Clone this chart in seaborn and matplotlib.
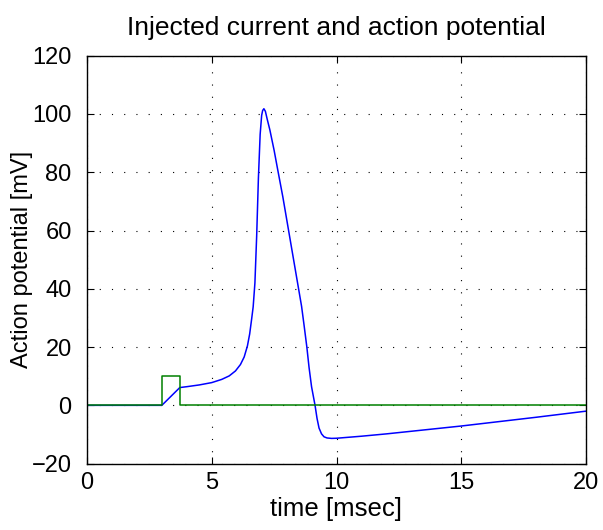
import matplotlib
matplotlib.use("Agg")
import matplotlib.pyplot as plt
import seaborn as sns
import pandas as pd

# Action potential (blue)
t_ap = [0, 3.0, 3.72, 4.0, 4.5, 5.0, 5.4, 5.7, 5.95, 6.15, 6.3, 6.43, 6.52, 6.6,
        6.66, 6.73, 6.8, 6.87, 6.94, 7.0, 7.04, 7.09, 7.15, 7.22, 7.33,
        7.5, 7.63, 7.85, 8.04, 8.25, 8.46, 8.6, 8.7, 8.81, 8.9, 9.0, 9.14, 9.22, 9.3,
        9.4, 9.5, 9.62, 9.8, 10.0, 11.0, 12.0, 13.0, 14.0, 15.0, 16.0, 17.0, 18.0,
        19.0, 20.0]
v_ap = [0, 0, 6.1, 6.4, 7.0, 7.8, 8.9, 10.1, 11.8, 14.0, 16.6, 20.4, 24.5, 29.7,
        33.8, 42, 58, 78, 93, 99.5, 101.2, 101.8, 100.9, 98.3, 94.5,
        87.5, 81.5, 71.5, 62, 51.5, 41, 34, 27.5, 20.1, 13, 6.4, 0, -4.5, -7.8,
        -9.8, -10.8, -11.2, -11.35, -11.3, -10.6, -9.8, -8.9, -8.0, -7.1, -6.1, -5.1, -4.1,
        -3.05, -2.0]

# Injected current (green)
t_inj = [0, 3.0, 3.0, 3.72, 3.72, 20]
i_inj = [0, 0, 10, 10, 0, 0]

x_ticks = [0, 5, 10, 15, 20]
y_ticks = [-20, 0, 20, 40, 60, 80, 100, 120]

sns.set_style("ticks")
plt.rcParams['font.family'] = ['Liberation Sans', 'DejaVu Sans']
plt.rcParams['axes.unicode_minus'] = True
for k in ['text.color', 'axes.labelcolor', 'xtick.color', 'ytick.color', 'axes.edgecolor']:
    plt.rcParams[k] = 'black'

fig = plt.figure(figsize=(6.03, 5.30), dpi=100)
ax = fig.add_axes([87/603, 1 - 463.6/530, (586-87)/603, (463.6-55.7)/530])

df_ap = pd.DataFrame({"t": t_ap, "v": v_ap})
df_inj = pd.DataFrame({"t": t_inj, "v": i_inj})
sns.lineplot(data=df_ap, x="t", y="v", ax=ax, color=(0, 0, 1), lw=1.1,
             sort=False, estimator=None)
sns.lineplot(data=df_inj, x="t", y="v", ax=ax, color=(0, 0.5, 0), lw=1.1,
             sort=False, estimator=None)

ax.set_xlim(0, 20)
ax.set_ylim(-20, 120)
ax.set_xticks(x_ticks)
ax.set_yticks(y_ticks)
ax.set_xticklabels([str(v) for v in x_ticks])
ax.set_yticklabels([str(v).replace('-', '\u2212') for v in y_ticks])

ax.grid(True, color='black', linestyle=(0, (1, 10)), linewidth=0.8)
for s in ax.spines.values():
    s.set_visible(True)
    s.set_linewidth(1.0)
    s.set_color('black')
ax.tick_params(direction='in', length=5, width=0.8, top=True, right=True,
               labelsize=17, colors='black')
ax.tick_params(axis='x', pad=6)
ax.tick_params(axis='y', pad=11)

ax.set_xlabel("time [msec]", fontsize=18.5)
ax.set_ylabel("Action potential [mV]", fontsize=17)
ax.xaxis.set_label_coords(0.5, -0.081)
ax.yaxis.set_label_coords(-0.108, 0.5)
ax.set_title("Injected current and action potential", fontsize=19, pad=15)

fig.savefig("out.png", dpi=100)
